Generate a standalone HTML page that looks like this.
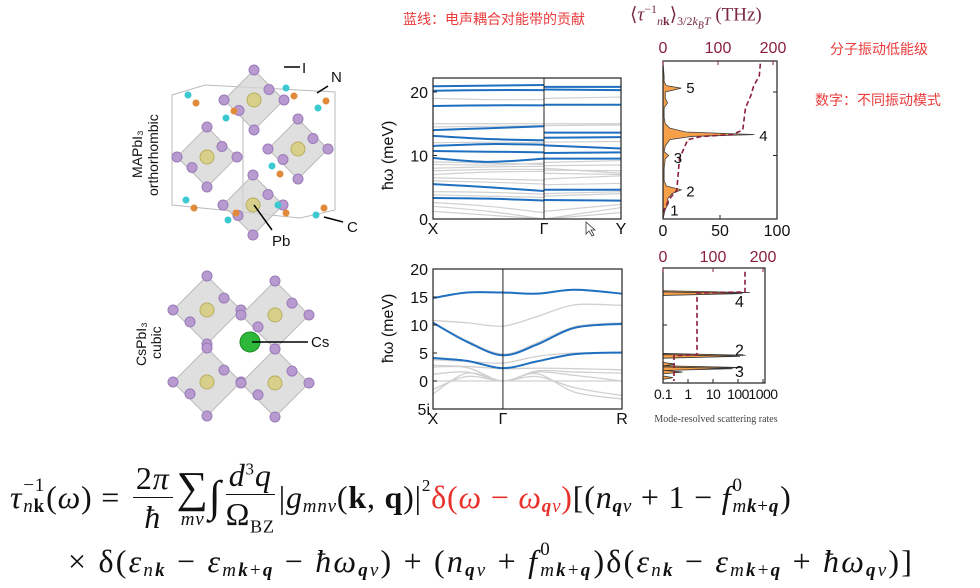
<!DOCTYPE html>
<html><head><meta charset="utf-8">
<style>
body{margin:0;background:#fff;}
#root{position:relative;width:980px;height:588px;overflow:hidden;background:#fff;font-family:"Liberation Sans","Noto Sans CJK SC",sans-serif;}
.fl{position:absolute;font-family:"Liberation Serif","DejaVu Serif",serif;font-style:italic;font-size:32px;color:#111;white-space:nowrap;line-height:1;display:flex;align-items:center;}
.up{font-style:normal}
.b{font-weight:bold;font-style:normal}
.red{color:#e8312a}
.ss{display:inline-flex;flex-direction:column;font-size:19px;line-height:1.1;margin:0 1px;}
.sub{font-size:19px;position:relative;top:9px;}
.sup{font-size:17px;position:relative;top:-12px;font-style:normal}
.frac{display:inline-flex;flex-direction:column;align-items:center;margin:0 4px;}
.frac>.n{border-bottom:1.5px solid #111;padding:0 3px 3px;}
.frac>.d{padding-top:3px;}
.cn{position:absolute;color:#ea3b3b;font-size:14px;font-family:"Liberation Sans","Noto Sans CJK SC",sans-serif;white-space:nowrap;}
</style></head>
<body>
<div id="root">
<div class="cn" style="left:403px;top:9px;">蓝线：电声耦合对能带的贡献</div>
<div style="position:absolute;left:630px;top:2px;font-family:'Liberation Serif',serif;color:#7a2a45;font-size:19px;white-space:nowrap;">⟨<i>τ</i><sup style="font-size:12px">−1</sup><sub style="font-size:12px"><i>n</i><b>k</b></sub>⟩<sub style="font-size:12px">3/2<i>k<sub>B</sub>T</i></sub> (THz)</div>
<div class="cn" style="left:830px;top:39px;">分子振动低能级</div>
<div class="cn" style="left:815px;top:90px;">数字：不同振动模式</div>

<svg id="s" width="980" height="588" style="position:absolute;left:0;top:0"></svg>

<div>
<div class="fl" style="left:10px;top:452px;height:90px;letter-spacing:0.8px;">
 <span>τ</span><span class="ss"><span class="up">−1</span><span>n<b class="b">k</b></span></span>
 <span class="up">(</span><span>ω</span><span class="up">) =&nbsp;</span>
 <span class="frac"><span class="n up">2<i>π</i></span><span class="d">ħ</span></span>
 <span class="frac" style="margin:0"><span class="up" style="font-size:44px;line-height:1">∑</span><span style="font-size:19px">mν</span></span>
 <span class="up" style="font-size:44px;">∫</span>
 <span class="frac"><span class="n">d<span class="up" style="font-size:17px;vertical-align:super">3</span>q</span><span class="d up">Ω<span style="font-size:18px;vertical-align:sub">BZ</span></span></span>
 <span class="up">|</span><span>g</span><span class="sub">mnν</span><span class="up">(<b>k</b>, <b>q</b>)|</span><span class="sup">2</span>
 <span class="red up">δ(</span><span class="red">ω</span><span class="red up">&nbsp;−&nbsp;</span><span class="red">ω</span><span class="red sub"><b>q</b>ν</span><span class="red up">)</span>
 <span class="up">[(</span><span>n</span><span class="sub"><b>q</b>ν</span><span class="up">&nbsp;+ 1 −&nbsp;</span><span>f</span><span class="ss"><span class="up">0</span><span>m<b>k</b><span class="up">+</span><b>q</b></span></span><span class="up">)</span>
</div>
<div class="fl" style="left:68px;top:539px;height:44px;letter-spacing:2.2px;">
 <span class="up">×&nbsp;δ(</span><span>ε</span><span class="sub">n<b>k</b></span><span class="up">&nbsp;−&nbsp;</span><span>ε</span><span class="sub">m<b>k</b><span class="up">+</span><b>q</b></span><span class="up">&nbsp;−&nbsp;</span><span>ħω</span><span class="sub"><b>q</b>ν</span><span class="up">) + (</span><span>n</span><span class="sub"><b>q</b>ν</span><span class="up">&nbsp;+&nbsp;</span><span>f</span><span class="ss"><span class="up">0</span><span>m<b>k</b><span class="up">+</span><b>q</b></span></span><span class="up">)δ(</span><span>ε</span><span class="sub">n<b>k</b></span><span class="up">&nbsp;−&nbsp;</span><span>ε</span><span class="sub">m<b>k</b><span class="up">+</span><b>q</b></span><span class="up">&nbsp;+&nbsp;</span><span>ħω</span><span class="sub"><b>q</b>ν</span><span class="up">)]</span>
</div>
</div>

<script>
// ---------- DATA ----------
const topBlue=[[20.9,21.0,21.1,20.8,20.8],[20.2,20.3,20.3,20.4,20.3],[17.8,17.9,17.9,18.0,18.0],[14.0,14.3,14.6,13.6,13.6],[13.1,12.6,12.4,12.8,12.9],[11.5,11.8,11.7,11.6,11.1],[10.7,10.6,10.5,10.4,10.5],[9.6,9.0,9.5,9.5,9.5],[5.5,5.0,4.4,4.6,4.6],[3.3,3.2,2.9,3.0,2.9]];
const topGray=[[1.2,0.6,0,0,1.0],[2.0,1.2,0,0,1.8],[2.6,2.0,1.0,1.2,2.3],[3.8,3.6,3.4,3.6,4.0],[4.3,4.2,3.9,4.0,4.3],[6.0,5.8,5.5,5.4,5.6],[6.5,6.3,6.1,6.3,6.8],[7.0,7.4,7.5,7.2,7.0],[7.6,7.8,7.8,7.7,7.6],[8.0,8.2,8.3,8.4,8.5],[8.6,8.5,8.8,8.0,7.2],[9.0,8.8,8.6,8.9,9.2],[12.0,12.1,12.0,12.1,12.2],[14.5,14.6,14.7,14.7,14.8],[15.0,15.0,15.0,15.0,15.0],[19.0,18.8,18.8,19.0,19.2]];
const topTicks=[0,10,20];
const specE=[0,1.5,2.5,3.2,4.0,4.6,5.2,6,8,9.5,10,10.6,11.5,12.5,13.0,13.3,13.7,14.3,15,16,17.5,18.3,19,20,20.6,21,21.6,22.5,24.5];
const specV=[0,2,5,4,8,16,3,1,1,2,5,1,2,6,25,80,20,6,2,1,1,4,2,2,16,3,1,1,0];
const cumE=[1,3,4.5,9.5,12.5,13.0,13.3,14,17.5,18.5,19.5,21,22.5,24.5];
const cumV=[0,10,25,30,45,70,125,145,150,155,160,165,175,177];
const modeLabels=[["1",1.5],["2",4.5],["3",9.8],["4",13.2],["5",20.8]];
const kFrac=[0,0.18,0.37,0.55,0.75,1];
const botBlue=[[14.8,15.8,15.8,15.6,16.3,15.6],[10.4,7.0,4.6,6.5,9.5,10.2],[4.1,3.6,2.3,3.5,4.8,5.1]];
const botGray=[[10.8,10.4,9.8,11.5,13.6,13.5],[10.5,7.2,4.8,6.8,9.7,10.4],[3.8,3.5,3.2,4.4,5.0,5.0],[2.8,2.6,2.2,2.3,2.2,2.0],[2.5,2.4,0.0,1.8,1.6,1.4],[1.2,1.6,0.0,1.6,1.0,0.0],[0,0,0,0,0,0],[-2.3,1.4,0,1.3,-2.0,-3.2],[-1.5,0.8,0,0.8,-1.2,-2.6]];
const botTicks=[0,5,10,15,20];
const spikeE=[15.8,15.6,4.6,4.4,3.0,2.4,2.2,1.6,0.6];
const spikeV=[300,150,200,120,0.3,150,60,0.6,0.25];
const stepE=[19.5,15.9,15.7,4.7,4.5,0];
const stepV=[164,164,68,68,22,22];
const botLabels=[["4",14.5],["2",5.8],["3",2.0]];

// ---------- DRAW ----------
const NS="http://www.w3.org/2000/svg";
const svg=document.getElementById('s');
function el(t,a,p){const e=document.createElementNS(NS,t);for(const k in a)e.setAttribute(k,a[k]);(p||svg).appendChild(e);return e;}
function txt(x,y,s,a){const e=el('text',Object.assign({x:x,y:y,'font-family':'Liberation Sans, sans-serif','font-size':14,fill:'#111'},a||{}));e.textContent=s;return e;}
function smooth(pts){let d='M'+pts[0][0]+','+pts[0][1];for(let i=0;i<pts.length-1;i++){const p0=pts[Math.max(0,i-1)],p1=pts[i],p2=pts[i+1],p3=pts[Math.min(pts.length-1,i+2)];const c1=[p1[0]+(p2[0]-p0[0])/6,p1[1]+(p2[1]-p0[1])/6],c2=[p2[0]-(p3[0]-p1[0])/6,p2[1]-(p3[1]-p1[1])/6];d+=' C'+c1+' '+c2+' '+p2;}return d;}

const st=el('g',{});


function oct(cx,cy,r){
  el('polygon',{points:`${cx},${cy-r} ${cx+r},${cy} ${cx},${cy+r} ${cx-r},${cy}`,fill:'#d4d4d4','fill-opacity':0.75,stroke:'#bbb'},st);
  [[0,-r],[r,0],[0,r],[-r,0],[r*0.5,-r*0.35],[-r*0.5,r*0.35]].forEach(o=>el('circle',{cx:cx+o[0],cy:cy+o[1],r:5,fill:'#b89ad0',stroke:'#9a7cb8'},st));
  el('circle',{cx:cx,cy:cy,r:7,fill:'#d8d08a',stroke:'#b8ae60'},st);
}
el('polygon',{points:'172,95 205,85 335,92 335,210 300,218 172,205',fill:'none',stroke:'#bbb'},st);
el('line',{x1:243,y1:110,x2:243,y2:222,stroke:'#bbb'},st);
oct(254,100,30);oct(207,157,30);oct(298,149,30);oct(253,205,30);
[[188,95],[226,118],[286,88],[318,108],[186,200],[228,220],[278,205],[316,215],[272,166]].forEach((p,i)=>{el('circle',{cx:p[0],cy:p[1],r:3.5,fill:'#3cc8d0'},st);el('circle',{cx:p[0]+8,cy:p[1]+(i%2?-7:8),r:3.5,fill:'#e08a3a'},st);});
oct(207,310,34);oct(275,315,34);oct(207,382,34);oct(275,383,34);
el('circle',{cx:250,cy:342,r:10,fill:'#2eb83a',stroke:'#1a8a22'},st);
el('line',{x1:284,y1:67,x2:300,y2:67,stroke:'#000','stroke-width':1.5},st);txt(302,73,'I',{'font-size':15});
el('line',{x1:317,y1:93,x2:328,y2:86,stroke:'#000','stroke-width':1.5},st);txt(331,82,'N',{'font-size':15});
el('line',{x1:324,y1:217,x2:343,y2:222,stroke:'#000','stroke-width':1.5},st);txt(347,232,'C',{'font-size':15});
el('line',{x1:254,y1:205,x2:272,y2:230,stroke:'#000','stroke-width':1.5},st);txt(272,246,'Pb',{'font-size':15});
el('line',{x1:252,y1:342,x2:308,y2:342,stroke:'#000','stroke-width':1.5},st);txt(311,347,'Cs',{'font-size':15});
txt(0,0,'MAPbI₃',{transform:'translate(142,178) rotate(-90)','font-size':14});
txt(0,0,'orthorhombic',{transform:'translate(158,196) rotate(-90)','font-size':14});
txt(0,0,'CsPbI₃',{transform:'translate(146,366) rotate(-90)','font-size':14});
txt(0,0,'cubic',{transform:'translate(161,359) rotate(-90)','font-size':14});

const tg=el('g',{});


const tx0=433,tx1=621,tG=544,ty=E=>219-E*6.35;
const tKx=[tx0,(tx0+tG)/2,tG,tG,tx1];
function topLine(v,c,w){
  el('path',{d:smooth([[tKx[0],ty(v[0])],[tKx[1],ty(v[1])],[tKx[2],ty(v[2])]]),fill:'none',stroke:c,'stroke-width':w},tg);
  el('path',{d:'M'+tKx[3]+','+ty(v[3])+' L'+tKx[4]+','+ty(v[4]),fill:'none',stroke:c,'stroke-width':w},tg);
}
topGray.forEach(v=>topLine(v,'#d0d0d0',1.2));
topBlue.forEach(v=>topLine(v,'#1f6fc0',2));
el('rect',{x:tx0,y:78,width:tx1-tx0,height:141,fill:'none',stroke:'#222','stroke-width':1.2},tg);
el('line',{x1:tG,y1:78,x2:tG,y2:219,stroke:'#222'},tg);
topTicks.forEach(v=>{el('line',{x1:tx0,x2:tx0+4,y1:ty(v),y2:ty(v),stroke:'#222'},tg);txt(tx0-5,ty(v)+6,String(v),{'text-anchor':'end','font-size':16});});
txt(0,0,'ħω (meV)',{transform:'translate(393,190) rotate(-90)','font-size':16});
txt(tx0,234,'X',{'text-anchor':'middle','font-size':16});txt(tG,234,'Γ',{'text-anchor':'middle','font-size':16});txt(tx1,234,'Y',{'text-anchor':'middle','font-size':16});
el('path',{d:'M586,222 l0,12 l3,-3 l3,5 l2,-1 l-3,-5 l4,0 z',fill:'#fff',stroke:'#333','stroke-width':0.8},tg);

const sg=el('g',{});


const sx0=663,sx1=777,sxb=v=>sx0+v*(sx1-sx0)/100,sxt=v=>sx0+v*0.55;
let sp=[[sx0,ty(specE[0])]];specE.forEach((e,i)=>sp.push([sxb(specV[i]),ty(e)]));sp.push([sx0,ty(specE[specE.length-1])]);
el('path',{d:'M'+sp.map(p=>p.join(',')).join(' L')+' Z',fill:'#f7a04a',stroke:'#444','stroke-width':0.8},sg);
el('path',{d:'M'+cumE.map((e,i)=>sxt(cumV[i])+','+ty(e)).join(' L'),fill:'none',stroke:'#8a1f3c','stroke-width':1.6,'stroke-dasharray':'5,3'},sg);
el('rect',{x:sx0,y:61,width:sx1-sx0,height:158,fill:'none',stroke:'#222','stroke-width':1.2},sg);
[0,50,100].forEach(v=>{el('line',{x1:sxb(v),x2:sxb(v),y1:219,y2:215,stroke:'#222'},sg);txt(sxb(v),236,String(v),{'text-anchor':'middle','font-size':16});});
[0,100,200].forEach(v=>{el('line',{x1:sxt(v),x2:sxt(v),y1:61,y2:65,stroke:'#8a1f3c'},sg);txt(sxt(v),53,String(v),{'text-anchor':'middle','font-size':16,fill:'#8a1f3c'});});
[10,20].forEach(v=>el('line',{x1:sx1,x2:sx1-4,y1:ty(v),y2:ty(v),stroke:'#222'},sg));
modeLabels.forEach(m=>{const i=specE.indexOf(specE.reduce((a,b)=>Math.abs(b-m[1])<Math.abs(a-m[1])?b:a));txt(sxb(specV[i])+5,ty(m[1])+6,m[0],{'font-size':15});});

const bg=el('g',{});


const bx0=433,bx1=622,by=E=>381-E*5.6,bx=f=>bx0+f*(bx1-bx0);
botGray.forEach(v=>el('path',{d:smooth(v.map((e,i)=>[bx(kFrac[i]),by(e)])),fill:'none',stroke:'#d0d0d0','stroke-width':1.3},bg));
botBlue.forEach(v=>el('path',{d:smooth(v.map((e,i)=>[bx(kFrac[i]),by(e)])),fill:'none',stroke:'#1f6fc0','stroke-width':2},bg));
el('rect',{x:bx0,y:by(20),width:bx1-bx0,height:by(-5)-by(20),fill:'none',stroke:'#222','stroke-width':1.2},bg);
el('line',{x1:bx(0.37),x2:bx(0.37),y1:by(20),y2:by(-5),stroke:'#222'},bg);
botTicks.forEach(v=>{el('line',{x1:bx0,x2:bx0+4,y1:by(v),y2:by(v),stroke:'#222'},bg);txt(bx0-5,by(v)+6,String(v),{'text-anchor':'end','font-size':16});});
txt(bx0-3,by(-5)+6,'5i',{'text-anchor':'end','font-size':16});
txt(0,0,'ħω (meV)',{transform:'translate(393,363) rotate(-90)','font-size':16});
txt(bx0,424,'X',{'text-anchor':'middle','font-size':16});txt(bx(0.37),424,'Γ',{'text-anchor':'middle','font-size':16});txt(bx1,424,'R',{'text-anchor':'middle','font-size':16});

const rg=el('g',{});


const rx0=663,rx1=765,rlog=v=>rx0+(Math.log10(v)+1)*25,rtop=v=>rx0+v*0.5;
spikeE.forEach((e,i)=>{el('path',{d:`M${rx0},${by(e)-1.8} L${rlog(spikeV[i])},${by(e)} L${rx0},${by(e)+1.8} Z`,fill:'#f7a04a',stroke:'#333','stroke-width':0.8},rg);});
el('path',{d:'M'+stepE.map((e,i)=>rtop(stepV[i])+','+by(e)).join(' L'),fill:'none',stroke:'#8a1f3c','stroke-width':1.6,'stroke-dasharray':'5,3'},rg);
el('rect',{x:rx0,y:268,width:rx1-rx0,height:115,fill:'none',stroke:'#222','stroke-width':1.2},rg);
[0.1,1,10,100,1000].forEach(v=>{el('line',{x1:rlog(v),x2:rlog(v),y1:383,y2:379,stroke:'#222'},rg);txt(rlog(v),399,String(v),{'text-anchor':'middle','font-size':14,'letter-spacing':'-0.5'});});
[0,100,200].forEach(v=>{el('line',{x1:rtop(v),x2:rtop(v),y1:268,y2:272,stroke:'#8a1f3c'},rg);txt(rtop(v),262,String(v),{'text-anchor':'middle','font-size':16,fill:'#8a1f3c'});});
el('line',{x1:rx0,x2:rx0+4,y1:by(10),y2:by(10),stroke:'#222'},rg);
botLabels.forEach(m=>txt(735,by(m[1])+7,m[0],{'font-size':16}));
txt(716,422,'Mode-resolved scattering rates',{'text-anchor':'middle','font-size':10,'font-family':'Liberation Serif, serif',fill:'#444'});
</script>
</div>
</body></html>
